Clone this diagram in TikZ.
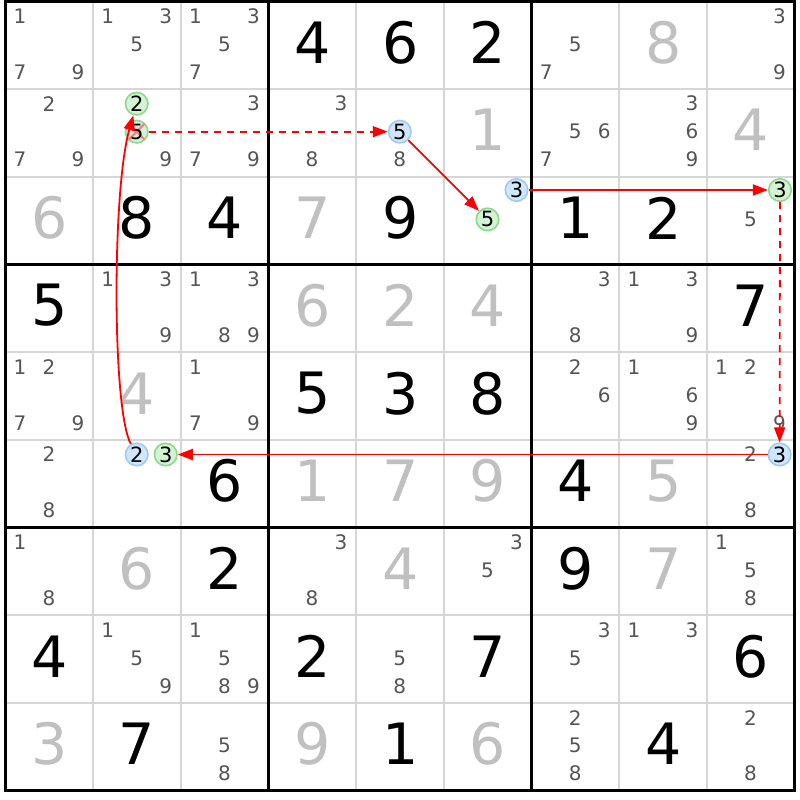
\documentclass[tikz,border=0pt]{standalone}
\usepackage{fontspec}
\setmainfont{DejaVu Sans}
\usetikzlibrary{arrows.meta}
\definecolor{cgray}{HTML}{555555}
\definecolor{ggray}{HTML}{C0C0C0}
\definecolor{lgrid}{HTML}{D6D6D6}
\definecolor{bfill}{HTML}{CFE6FC}
\definecolor{bline}{HTML}{9CCCF6}
\definecolor{gfill}{HTML}{D4F2D4}
\definecolor{gline}{HTML}{8CD98C}
\definecolor{lred}{HTML}{FF0000}
\definecolor{xred}{HTML}{F08080}
\newcommand\cands[3]{%
  \foreach \d in {#3} {%
    \pgfmathsetmacro\kx{mod(\d-1,3)}%
    \pgfmathsetmacro\jy{int((\d-1)/3)}%
    \node[cand] (k#1#2\d) at ({5.5+87.7*#2+43.5+(\kx-1)*29},{1.5+87.7*#1+42.5+(\jy-1)*28}) {\d};
  }}
\newcommand\sv[3]{\node[solved] (s#1#2) at ({5.5+87.7*#2+43.85},{1.5+87.7*#1+41}) {#3};}
\newcommand\gv[3]{\node[given] (s#1#2) at ({5.5+87.7*#2+43.85},{1.5+87.7*#1+41}) {#3};}
\newcommand\mk[5]{%
  \pgfmathsetmacro\kx{mod(#4-1,3)}%
  \pgfmathsetmacro\jy{int((#4-1)/3)}%
  \node[#5] (#1) at ({5.5+87.7*#3+43.5+(\kx-1)*29},{1.5+87.7*#2+42.5+(\jy-1)*28}) {#4};}
\begin{document}
\begin{tikzpicture}[x=1bp,y=-1bp,
  cand/.style={inner sep=0pt, text=cgray, font=\fontsize{20bp}{20bp}\selectfont},
  solved/.style={inner sep=0pt, text=black, font=\fontsize{57bp}{57bp}\selectfont},
  given/.style={solved, text=ggray},
  bcirc/.style={circle, draw=bline, fill=bfill, line width=1.6bp, minimum size=22.5bp, inner sep=0pt, text=black, font=\fontsize{21bp}{21bp}\selectfont},
  gcirc/.style={bcirc, draw=gline, fill=gfill},
  ctext/.style={inner sep=0pt, text=black, font=\fontsize{21bp}{21bp}\selectfont},
  xmark/.style={draw=xred, line width=2bp},
  link/.style={draw=lred, line width=1.8bp, -{Triangle[length=15bp,width=11bp]}},
  weak/.style={link, dash pattern=on 7bp off 6bp},
  gridthin/.style={draw=lgrid, line width=2bp},
  gridthick/.style={draw=black, line width=3bp},
]
\useasboundingbox[fill=white] (0,0) rectangle (800,800);
% grid
\foreach \i in {1,2,4,5,7,8} {
  \draw[gridthin] ({5.5+87.7*\i},1.5) -- ({5.5+87.7*\i},790.5);
  \draw[gridthin] (5.5,{1.5+87.7*\i}) -- (794.7,{1.5+87.7*\i});
}
\foreach \i in {0,3,6,9} {
  \draw[gridthick] ({5.5+87.7*\i},0) -- ({5.5+87.7*\i},792);
  \draw[gridthick] (4,{1.5+87.7*\i}) -- (796.2,{1.5+87.7*\i});
}
% row 0
\cands{0}{0}{1,7,9}\cands{0}{1}{1,3,5}\cands{0}{2}{1,3,5,7}
\sv{0}{3}{4}\sv{0}{4}{6}\sv{0}{5}{2}
\cands{0}{6}{5,7}\gv{0}{7}{8}\cands{0}{8}{3,9}
% row 1
\cands{1}{0}{2,7,9}\cands{1}{1}{9}\cands{1}{2}{3,7,9}
\cands{1}{3}{3,8}\cands{1}{4}{8}\gv{1}{5}{1}
\cands{1}{6}{5,6,7}\cands{1}{7}{3,6,9}\gv{1}{8}{4}
% row 2
\gv{2}{0}{6}\sv{2}{1}{8}\sv{2}{2}{4}
\gv{2}{3}{7}\sv{2}{4}{9}
\sv{2}{6}{1}\sv{2}{7}{2}\cands{2}{8}{5}
% row 3
\sv{3}{0}{5}\cands{3}{1}{1,3,9}\cands{3}{2}{1,3,8,9}
\gv{3}{3}{6}\gv{3}{4}{2}\gv{3}{5}{4}
\cands{3}{6}{3,8}\cands{3}{7}{1,3,9}\sv{3}{8}{7}
% row 4
\cands{4}{0}{1,2,7,9}\gv{4}{1}{4}\cands{4}{2}{1,7,9}
\sv{4}{3}{5}\sv{4}{4}{3}\sv{4}{5}{8}
\cands{4}{6}{2,6}\cands{4}{7}{1,6,9}\cands{4}{8}{1,2,9}
% row 5
\cands{5}{0}{2,8}\sv{5}{2}{6}
\gv{5}{3}{1}\gv{5}{4}{7}\gv{5}{5}{9}
\sv{5}{6}{4}\gv{5}{7}{5}\cands{5}{8}{2,8}
% row 6
\cands{6}{0}{1,8}\gv{6}{1}{6}\sv{6}{2}{2}
\cands{6}{3}{3,8}\gv{6}{4}{4}\cands{6}{5}{3,5}
\sv{6}{6}{9}\gv{6}{7}{7}\cands{6}{8}{1,5,8}
% row 7
\sv{7}{0}{4}\cands{7}{1}{1,5,9}\cands{7}{2}{1,5,8,9}
\sv{7}{3}{2}\cands{7}{4}{5,8}\sv{7}{5}{7}
\cands{7}{6}{3,5}\cands{7}{7}{1,3}\sv{7}{8}{6}
% row 8
\gv{8}{0}{3}\sv{8}{1}{7}\cands{8}{2}{5,8}
\gv{8}{3}{9}\sv{8}{4}{1}\gv{8}{5}{6}
\cands{8}{6}{2,5,8}\sv{8}{7}{4}\cands{8}{8}{2,8}
% chain candidates
\mk{a2}{1}{1}{2}{gcirc}
\node[gcirc] (a5) at (136.7,131.7) {};
\draw[xmark] ([shift={(-7.5,-7.5)}]a5.center) -- ([shift={(7.5,7.5)}]a5.center)
             ([shift={(7.5,-7.5)}]a5.center) -- ([shift={(-7.5,7.5)}]a5.center);
\node[ctext] (a5t) at (a5.center) {5};
\mk{b5}{1}{4}{5}{bcirc}
\mk{c5}{2}{5}{5}{gcirc}
\node[bcirc] (c3) at (516.5,190) {3};
\node[gcirc] (d3) at (780,190) {3};
\mk{e3}{5}{8}{3}{bcirc}
\mk{f3}{5}{1}{3}{gcirc}
\mk{f2}{5}{1}{2}{bcirc}
% links
\draw[weak] (a5) -- (b5);
\draw[link] (b5) -- (c5);
\draw[link] (c3) -- (d3);
\draw[weak] (d3) -- (e3);
\draw[link] (e3) -- (f3);
\draw[link] (f2) .. controls (112,410) and (112,190) .. (a2);
\end{tikzpicture}
\end{document}
